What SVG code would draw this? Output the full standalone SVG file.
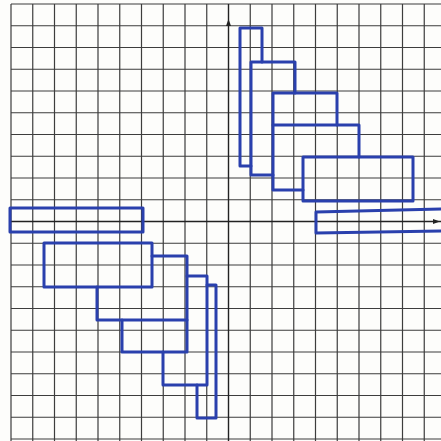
<svg xmlns="http://www.w3.org/2000/svg" width="441" height="441" viewBox="0 0 441 441">
<defs>
<style>
.g{stroke:#3d3d3d;stroke-width:1.2;fill:none}
.ax{stroke:#222;stroke-width:1.4;fill:none}
.b{stroke:#2a40ad;stroke-width:3;fill:none;stroke-linejoin:round;stroke-linecap:round}
</style>
</defs>
<rect x="0" y="0" width="441" height="441" fill="#fdfdfb"/>
<g id="grid" class="g">
<path d="M11,4V441M32.75,4V441M54.5,4V441M76.25,4V441M98,4V441M119.75,4V441M141.5,4V441M163.25,4V441M185,4V441M206.75,4V441M250.25,4V441M272,4V441M293.75,4V441M315.5,4V441M337.25,4V441M359,4V441M380.75,4V441M402.5,4V441M424.25,4V441"/>
<path d="M11,4H441M11,25.75H441M11,47.5H441M11,69.25H441M11,91H441M11,112.75H441M11,134.5H441M11,156.25H441M11,178H441M11,199.75H441M11,243.25H441M11,265H441M11,286.75H441M11,308.5H441M11,330.25H441M11,352H441M11,373.75H441M11,395.5H441M11,417.25H441M11,439H441"/>
</g>
<g id="axes" class="ax">
<path d="M228.5,4V441"/>
<path d="M11,221.5H441"/>
<path d="M228.5,19L226,26H231Z" fill="#222" stroke="none"/>
<path d="M440,221.5L433,219V224Z" fill="#222" stroke="none"/>
</g>
<g id="quadrant1" class="b">
<path id="r1" d="M251,166L240,166L240,28L262,28L262,62"/>
<path id="r2" d="M273,175L251,175L251,62L295,62L295,93"/>
<path id="r3" d="M303,190L273,190L273,93L337,93L337,125"/>
<path id="r4" d="M273,125L359,125L359,157"/>
<path id="r5" d="M303,157H413V201H303Z"/>
<path id="r6" d="M441,209L316,212L316,233L441,231"/>
</g>
<g id="quadrant3" class="b">
<path id="s6" d="M10,208H143V232H10Z"/>
<path id="s5" d="M44,243H152V287H44Z"/>
<path id="s3" d="M152,256L187,256L187,352L122,352L122,320"/>
<path id="s4" d="M97,287L97,320L187,320"/>
<path id="s2" d="M187,276L207,276L207,385L163,385L163,352"/>
<path id="s1" d="M207,285L216,285L216,418L197,418L197,385"/>
</g>
</svg>
